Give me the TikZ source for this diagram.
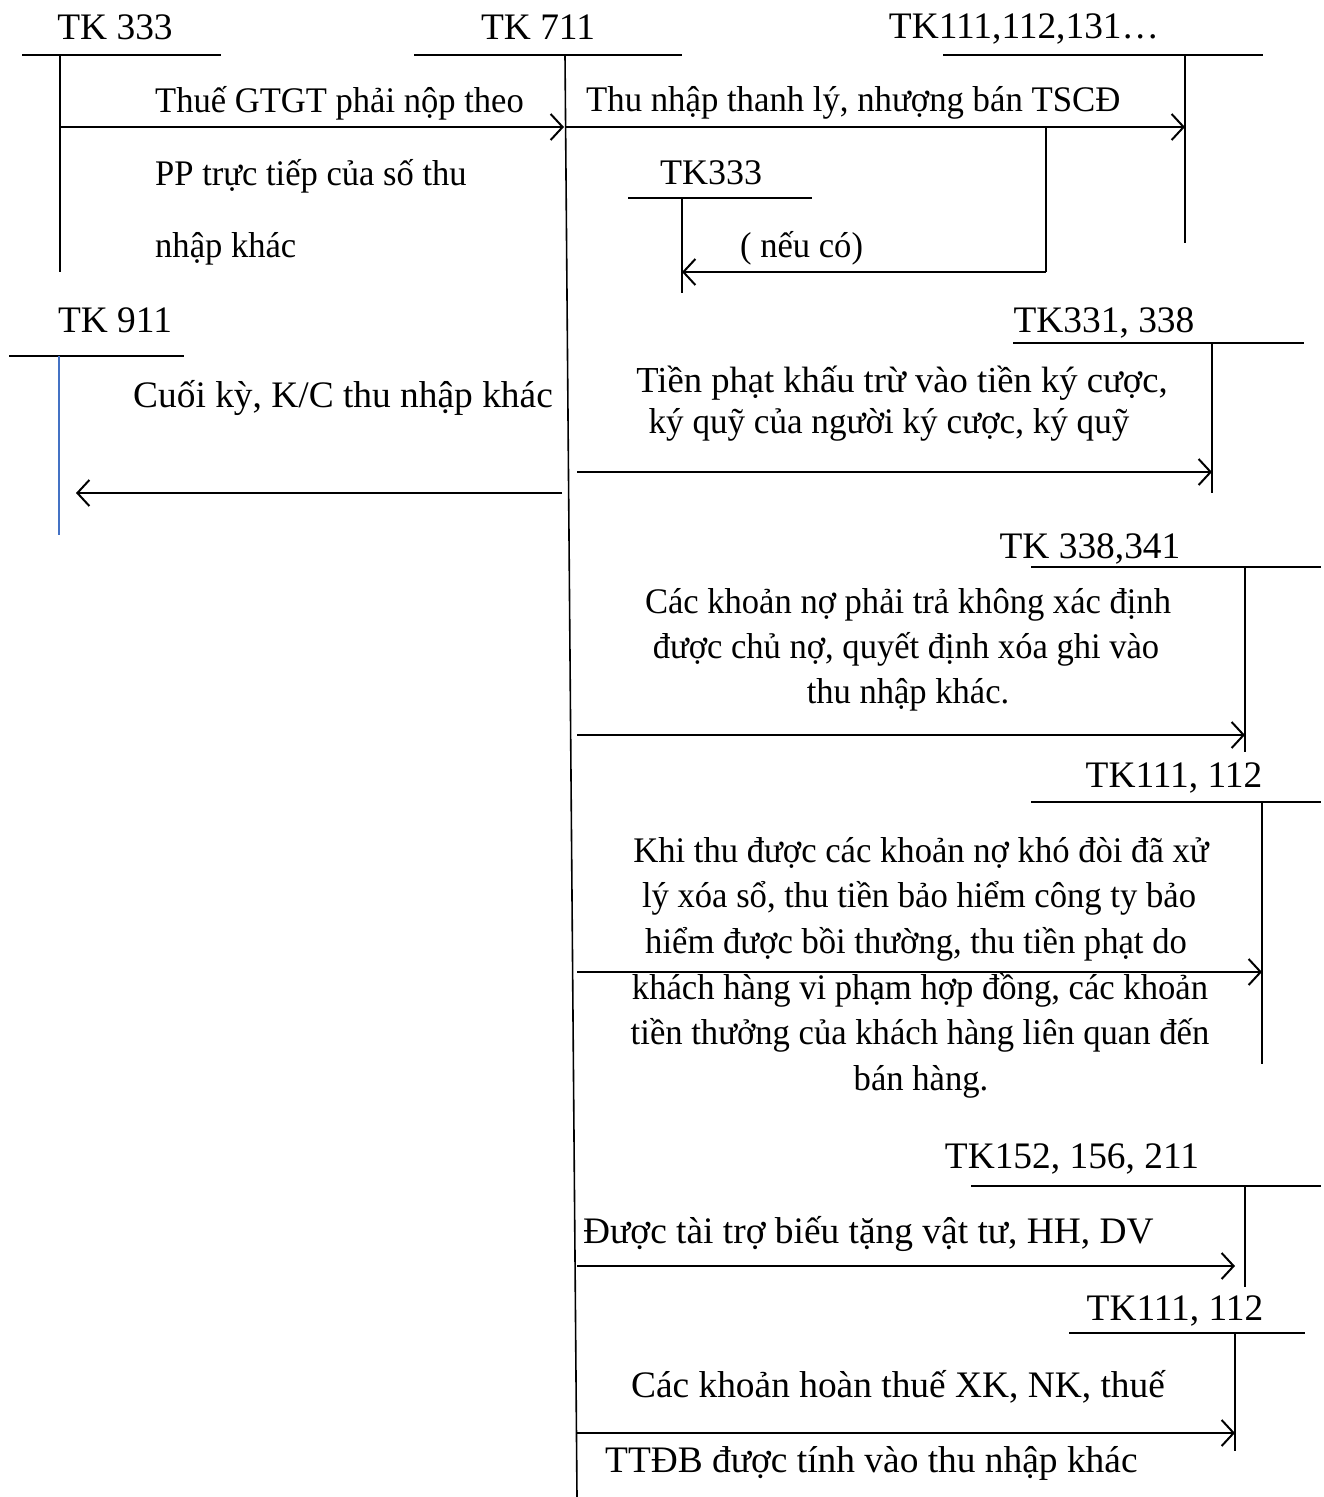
\documentclass[tikz,border=0pt]{standalone}
\usepackage{fontspec}
\usepackage{graphicx}
\setmainfont{Liberation Serif}
\usetikzlibrary{arrows.meta}
\definecolor{tblue}{HTML}{4472C4}
\newcommand\hsq[2]{\scalebox{#1}[1]{#2}}
\begin{document}
\begin{tikzpicture}[x=1pt,y=-1pt,
  txt/.style={inner sep=0pt, anchor=base, font=\fontsize{36}{44}\selectfont},
  txtl/.style={txt, anchor=base west},
  big/.style={font=\fontsize{37.4}{44}\selectfont},
  mid/.style={font=\fontsize{36.6}{44}\selectfont},
  acc/.style={line width=1.6pt},
  flow/.style={line width=2pt,-{Straight Barb[length=12pt,width=26pt,line width=2pt]}},
  plain/.style={line width=2pt}
]
\useasboundingbox (0,0) rectangle (1324,1497);

% ---------- account labels ----------
\node[txt,big] (l333) at (115,39) {TK 333};
\node[txt,big] (l711) at (538,39) {TK 711};
\node[txt,big] (l111a) at (1024,38) {TK111,112,131…};
\node[txt] (l333b) at (711,184) {TK333};
\node[txt,big] (l911) at (115,332) {TK 911};
\node[txt,big] (l331) at (1104,332) {TK331, 338};
\node[txt,big] (l338) at (1090,558) {TK 338,341};
\node[txt,big] (l111b) at (1174,787) {TK111, 112};
\node[txt,big] (l152) at (1072,1168) {TK152, 156, 211};
\node[txt,big] (l111c) at (1175,1320) {TK111, 112};

% ---------- T-account coordinates ----------
\coordinate (h333L) at (22,55);   \coordinate (h333R) at (221,55);
\coordinate (v333T) at (60,55);   \coordinate (v333B) at (60,272);
\coordinate (h711L) at (414,55);  \coordinate (h711R) at (682,55);
\coordinate (v711T) at (565,55);  \coordinate (v711B) at (577,1497);
\coordinate (h111aL) at (943,55); \coordinate (h111aR) at (1263,55);
\coordinate (v111aT) at (1185,55);\coordinate (v111aB) at (1185,243);
\coordinate (h333bL) at (628,198);\coordinate (h333bR) at (812,198);
\coordinate (v333bT) at (682,198);\coordinate (v333bB) at (682,293);
\coordinate (h911L) at (9,356);   \coordinate (h911R) at (184,356);
\coordinate (v911T) at (59,356);  \coordinate (v911B) at (59,535);
\coordinate (h331L) at (1013,343);\coordinate (h331R) at (1304,343);
\coordinate (v331T) at (1212,343);\coordinate (v331B) at (1212,493);
\coordinate (h338L) at (1031,567);\coordinate (h338R) at (1321,567);
\coordinate (v338T) at (1245,567);\coordinate (v338B) at (1245,752);
\coordinate (h111bL) at (1031,802);\coordinate (h111bR) at (1321,802);
\coordinate (v111bT) at (1262,802);\coordinate (v111bB) at (1262,1064);
\coordinate (h152L) at (971,1186);\coordinate (h152R) at (1321,1186);
\coordinate (v152T) at (1245,1186);\coordinate (v152B) at (1245,1287);
\coordinate (h111cL) at (1069,1333);\coordinate (h111cR) at (1305,1333);
\coordinate (v111cT) at (1235,1333);\coordinate (v111cB) at (1235,1451);

\draw[acc] (h333L) -- (h333R);  \draw[acc] (v333T) -- (v333B);
\draw[acc] (h711L) -- (h711R);  \draw[acc] (v711T) -- (v711B);
\draw[acc] (h111aL) -- (h111aR);\draw[acc] (v111aT) -- (v111aB);
\draw[acc] (h333bL) -- (h333bR);\draw[acc] (v333bT) -- (v333bB);
\draw[acc] (h911L) -- (h911R);  \draw[acc, tblue] (v911T) -- (v911B);
\draw[acc] (h331L) -- (h331R);  \draw[acc] (v331T) -- (v331B);
\draw[acc] (h338L) -- (h338R);  \draw[acc] (v338T) -- (v338B);
\draw[acc] (h111bL) -- (h111bR);\draw[acc] (v111bT) -- (v111bB);
\draw[acc] (h152L) -- (h152R);  \draw[acc] (v152T) -- (v152B);
\draw[acc] (h111cL) -- (h111cR);\draw[acc] (v111cT) -- (v111cB);

% ---------- flow coordinates ----------
\coordinate (f1s) at (60,127);   \coordinate (f1e) at (564,127);
\coordinate (f2s) at (565,127);  \coordinate (f2e) at (1185,127);
\coordinate (f3s) at (1046,127); \coordinate (f3m) at (1046,272); \coordinate (f3e) at (682,272);
\coordinate (f4s) at (562,493);  \coordinate (f4e) at (76,493);
\coordinate (f5s) at (577,472);  \coordinate (f5e) at (1212,472);
\coordinate (f6s) at (577,735);  \coordinate (f6e) at (1245,735);
\coordinate (f7s) at (577,972);  \coordinate (f7e) at (1262,972);
\coordinate (f8s) at (577,1266); \coordinate (f8e) at (1235,1266);
\coordinate (f9s) at (577,1433); \coordinate (f9e) at (1235,1433);

\draw[flow] (f1s) -- (f1e);
\draw[flow] (f2s) -- (f2e);
\draw[plain] (f3s) -- (f3m);
\draw[flow] (f3m) -- (f3e);
\draw[flow] (f4s) -- (f4e);
\draw[flow] (f5s) -- (f5e);
\draw[flow] (f6s) -- (f6e);
\draw[flow] (f7s) -- (f7e);
\draw[flow] (f8s) -- (f8e);
\draw[flow] (f9s) -- (f9e);

% ---------- texts ----------
\node[txtl] (t1a) at (155,112) {\hsq{0.96}{Thuế GTGT phải nộp theo}};
\node[txtl] (t1b) at (155,185) {\hsq{0.96}{PP trực tiếp của số thu}};
\node[txtl] (t1c) at (155,257) {\hsq{0.96}{nhập khác}};
\node[txtl] (t2) at (586,111) {\hsq{0.965}{Thu nhập thanh lý, nhượng bán TSCĐ}};
\node[txtl] (t3) at (740,257) {\hsq{0.96}{( nếu có)}};
\node[txtl,big] (t4) at (133,407) {Cuối kỳ, K/C thu nhập khác};
\node[txt,mid] (t5a) at (902,392) {Tiền phạt khấu trừ vào tiền ký cược,};
\node[txt] (t5b) at (889,433) {\hsq{0.975}{ký quỹ của người ký cược, ký quỹ}};
\node[txt] (t6a) at (908,613) {\hsq{0.96}{Các khoản nợ phải trả không xác định}};
\node[txt] (t6b) at (906,658) {\hsq{0.96}{được chủ nợ, quyết định xóa ghi vào}};
\node[txt] (t6c) at (908,703) {\hsq{0.96}{thu nhập khác.}};
\node[txt] (t7a) at (921,862) {\hsq{0.962}{Khi thu được các khoản nợ khó đòi đã xử}};
\node[txt] (t7b) at (919,907) {\hsq{0.962}{lý xóa sổ, thu tiền bảo hiểm công ty bảo}};
\node[txt] (t7c) at (916,953) {\hsq{0.962}{hiểm được bồi thường, thu tiền phạt do}};
\node[txt] (t7d) at (920,999) {\hsq{0.962}{khách hàng vi phạm hợp đồng, các khoản}};
\node[txt] (t7e) at (920,1044) {\hsq{0.962}{tiền thưởng của khách hàng liên quan đến}};
\node[txt] (t7f) at (921,1090) {\hsq{0.962}{bán hàng.}};
\node[txtl,big] (t8) at (583,1243) {Được tài trợ biếu tặng vật tư, HH, DV};
\node[txt,big] (t9a) at (898,1397) {Các khoản hoàn thuế XK, NK, thuế};
\node[txtl,big] (t9b) at (605,1472) {TTĐB được tính vào thu nhập khác};
\end{tikzpicture}
\end{document}
